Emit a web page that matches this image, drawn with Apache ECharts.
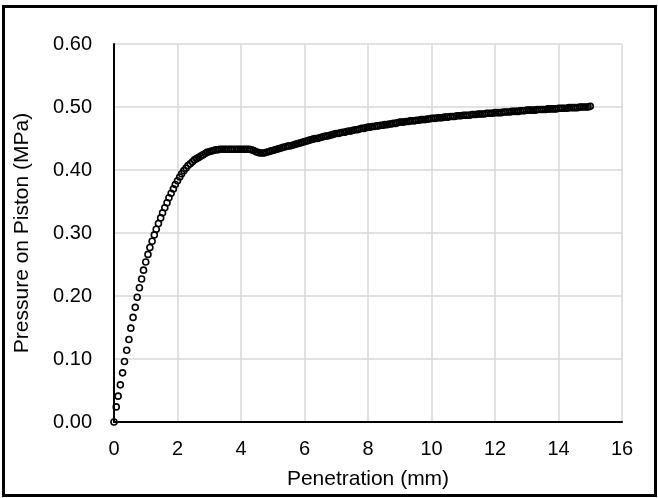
<!DOCTYPE html>
<html>
<head>
<meta charset="utf-8">
<script src="https://cdn.jsdelivr.net/npm/echarts@6/dist/echarts.min.js"></script>
<style>
html,body{margin:0;padding:0;background:#fff;}
#chart{width:658px;height:498px;}
</style>
</head>
<body>
<div id="chart"></div>
<script>
// Penetration (mm) sample positions
var penetration = [
  0.00,0.07,0.13,0.20,0.27,0.33,0.40,0.47,0.53,0.60,0.67,0.73,0.80,0.87,0.93,
  1.00,1.07,1.13,1.20,1.27,1.33,1.40,1.47,1.53,1.60,1.67,1.73,1.80,1.87,1.93,
  2.00,2.07,2.13,2.20,2.27,2.33,2.40,2.47,2.53,2.60,2.67,2.73,2.80,2.87,2.93,
  3.00,3.07,3.13,3.20,3.27,3.33,3.40,3.47,3.53,3.60,3.67,3.73,3.80,3.87,3.93,
  4.00,4.07,4.13,4.20,4.27,4.33,4.40,4.47,4.53,4.60,4.67,4.73,4.80,4.87,4.93,
  5.00,5.07,5.13,5.20,5.27,5.33,5.40,5.47,5.53,5.60,5.67,5.73,5.80,5.87,5.93,
  6.00,6.07,6.13,6.20,6.27,6.33,6.40,6.47,6.53,6.60,6.67,6.73,6.80,6.87,6.93,
  7.00,7.07,7.13,7.20,7.27,7.33,7.40,7.47,7.53,7.60,7.67,7.73,7.80,7.87,7.93,
  8.00,8.07,8.13,8.20,8.27,8.33,8.40,8.47,8.53,8.60,8.67,8.73,8.80,8.87,8.93,
  9.00,9.07,9.13,9.20,9.27,9.33,9.40,9.47,9.53,9.60,9.67,9.73,9.80,9.87,9.93,
  10.00,10.07,10.13,10.20,10.27,10.33,10.40,10.47,10.53,10.60,10.67,10.73,10.80,10.87,10.93,
  11.00,11.07,11.13,11.20,11.27,11.33,11.40,11.47,11.53,11.60,11.67,11.73,11.80,11.87,11.93,
  12.00,12.07,12.13,12.20,12.27,12.33,12.40,12.47,12.53,12.60,12.67,12.73,12.80,12.87,12.93,
  13.00,13.07,13.13,13.20,13.27,13.33,13.40,13.47,13.53,13.60,13.67,13.73,13.80,13.87,13.93,
  14.00,14.07,14.13,14.20,14.27,14.33,14.40,14.47,14.53,14.60,14.67,14.73,14.80,14.87,14.93,
  15.00
];
// Pressure on piston (MPa)
var pressure = [
  0.000,0.024,0.041,0.059,0.078,0.096,0.114,0.131,0.149,0.166,0.182,0.198,0.213,0.227,0.241,
  0.254,0.266,0.277,0.287,0.297,0.306,0.315,0.324,0.332,0.340,0.348,0.356,0.363,0.370,0.377,
  0.383,0.389,0.394,0.399,0.403,0.407,0.410,0.413,0.416,0.418,0.420,0.422,0.424,0.426,0.428,
  0.429,0.430,0.431,0.432,0.432,0.433,0.433,0.433,0.433,0.433,0.433,0.433,0.433,0.433,0.433,
  0.433,0.433,0.433,0.433,0.433,0.432,0.431,0.429,0.428,0.427,0.427,0.427,0.428,0.429,0.430,
  0.431,0.432,0.433,0.434,0.435,0.436,0.437,0.438,0.438,0.439,0.440,0.441,0.442,0.443,0.444,
  0.445,0.446,0.447,0.448,0.449,0.450,0.450,0.451,0.452,0.453,0.454,0.454,0.455,0.456,0.457,
  0.458,0.458,0.459,0.460,0.460,0.461,0.462,0.462,0.463,0.464,0.464,0.465,0.466,0.466,0.467,
  0.468,0.468,0.469,0.469,0.470,0.470,0.471,0.471,0.472,0.472,0.473,0.473,0.474,0.474,0.475,
  0.476,0.476,0.476,0.477,0.477,0.478,0.478,0.478,0.479,0.479,0.480,0.480,0.480,0.481,0.481,
  0.482,0.482,0.482,0.483,0.483,0.483,0.484,0.484,0.484,0.485,0.485,0.485,0.486,0.486,0.486,
  0.487,0.487,0.487,0.487,0.488,0.488,0.488,0.489,0.489,0.489,0.489,0.490,0.490,0.490,0.490,
  0.491,0.491,0.491,0.491,0.492,0.492,0.492,0.492,0.493,0.493,0.493,0.493,0.494,0.494,0.494,
  0.495,0.495,0.495,0.495,0.495,0.496,0.496,0.496,0.496,0.496,0.497,0.497,0.497,0.497,0.497,
  0.498,0.498,0.498,0.498,0.498,0.499,0.499,0.499,0.499,0.499,0.500,0.500,0.500,0.500,0.500,
  0.501
];
var xTicks = [0, 2, 4, 6, 8, 10, 12, 14, 16];
var yTicks = [0.00, 0.10, 0.20, 0.30, 0.40, 0.50, 0.60];
var xTitle = 'Penetration (mm)';
var yTitle = 'Pressure on Piston (MPa)';

var points = penetration.map(function (x, i) { return [x, pressure[i]]; });
var FONT = '"Liberation Sans", Arial, sans-serif';

var chart = echarts.init(document.getElementById('chart'), null, {renderer: 'canvas'});
chart.setOption({
  animation: false,
  backgroundColor: '#ffffff',
  grid: {left: 114, right: 36, top: 44, bottom: 76, containLabel: false},
  xAxis: {
    type: 'value',
    min: xTicks[0], max: xTicks[xTicks.length - 1], interval: 2,
    name: xTitle, nameLocation: 'middle', nameGap: 47,
    nameTextStyle: {fontFamily: FONT, fontSize: 21, color: '#000'},
    axisLine: {show: true, onZero: false, lineStyle: {color: '#000', width: 2}},
    axisTick: {show: false},
    axisLabel: {fontFamily: FONT, fontSize: 20, color: '#000', margin: 17,
      formatter: function (v) { return String(v); }},
    splitLine: {show: true, lineStyle: {color: '#d9d9d9', width: 1.5}}
  },
  yAxis: {
    type: 'value',
    min: yTicks[0], max: yTicks[yTicks.length - 1], interval: 0.1,
    name: yTitle, nameLocation: 'middle', nameGap: 81,
    nameTextStyle: {fontFamily: FONT, fontSize: 21, color: '#000'},
    axisLine: {show: true, onZero: false, lineStyle: {color: '#000', width: 2}},
    axisTick: {show: false},
    axisLabel: {fontFamily: FONT, fontSize: 20, color: '#000', margin: 22,
      formatter: function (v) { return v.toFixed(2); }},
    splitLine: {show: true, lineStyle: {color: '#d9d9d9', width: 1.5}}
  },
  series: [{
    type: 'scatter',
    data: points,
    symbol: 'circle',
    symbolSize: 6,
    itemStyle: {color: 'rgba(255,255,255,0)', borderColor: '#000', borderWidth: 1.6, opacity: 1},
    emphasis: {disabled: true},
    silent: true,
    large: false,
    progressive: 0
  }],
  graphic: [{
    type: 'rect',
    shape: {x: 3.5, y: 6.5, width: 652, height: 489},
    style: {fill: 'none', stroke: '#000', lineWidth: 3},
    silent: true,
    z: 100
  }]
});
</script>
</body>
</html>
